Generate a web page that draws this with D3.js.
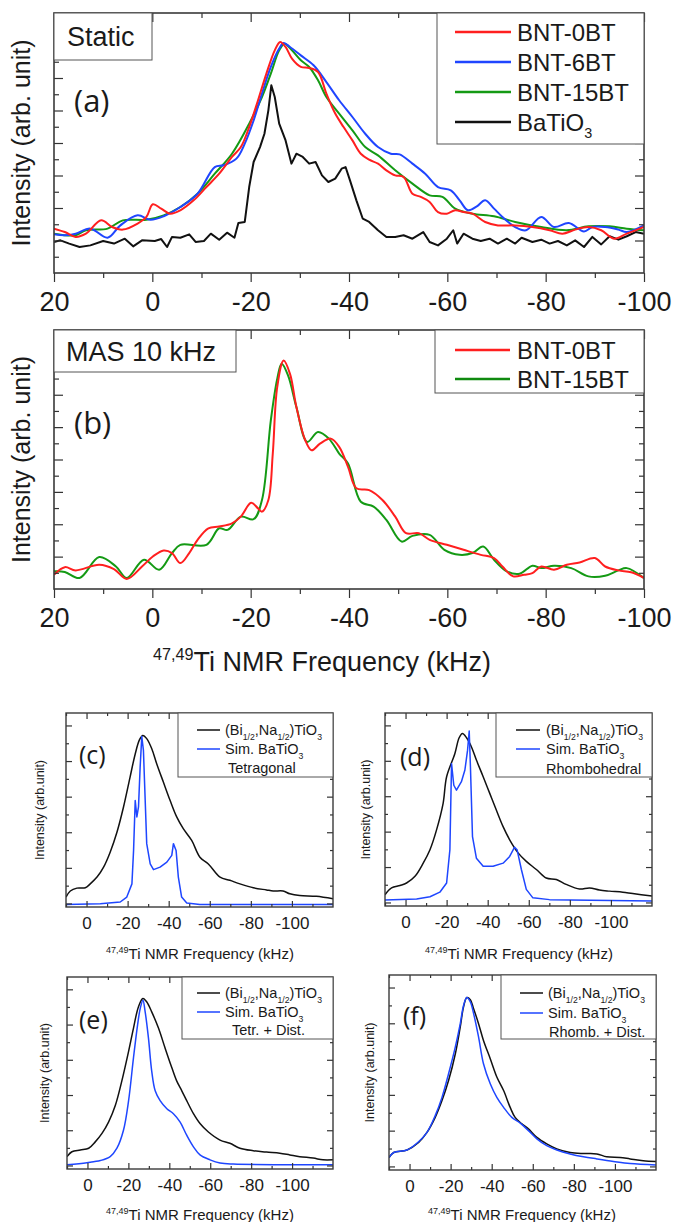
<!DOCTYPE html>
<html>
<head>
<meta charset="utf-8">
<script src="https://cdn.jsdelivr.net/npm/d3@7"></script>
<style>
  body { margin: 0; background: #fff; }
  svg { display: block; font-family: "Liberation Sans", Arial, sans-serif; }
</style>
</head>
<body>
<div id="chart"></div>
<script>
// ---- data: [frequency kHz, intensity a.u.] ----
const staticBNT0 = [[20,2.73],[17.8,2.52],[15.6,2.22],[13.5,2.42],[10.4,3.24],[8.2,2.83],[6.0,2.67],[3.0,3.04],[1.2,3.45],[-0.1,4.23],[-1.8,3.96],[-3.6,3.65],[-5.7,3.86],[-8.4,4.47],[-11.0,5.29],[-13.6,6.11],[-16.2,7.14],[-18.0,7.75],[-19.7,8.98],[-21.5,10.63],[-23.2,12.27],[-24.9,13.70],[-26.0,14.22],[-27.1,13.91],[-28.4,13.19],[-30.2,12.68],[-31.9,12.62],[-33.7,12.37],[-35.4,11.04],[-37.2,9.81],[-38.9,8.98],[-40.7,8.16],[-42.4,7.34],[-44.1,6.97],[-45.9,6.73],[-47.6,6.32],[-49.4,6.01],[-51.1,5.91],[-52.9,4.88],[-54.6,4.68],[-56.4,4.37],[-58.1,3.75],[-59.9,3.65],[-61.6,3.86],[-63.3,3.75],[-65.1,3.65],[-67.7,3.14],[-70.3,2.93],[-73.8,2.93],[-77.3,2.83],[-80.8,2.63],[-83.4,2.42],[-86.0,2.67],[-88.7,2.83],[-91.3,2.63],[-93.9,2.11],[-96.5,2.42],[-100,2.83]];
const staticBNT6 = [[20,2.38],[17.8,2.32],[15.6,2.42],[12.6,2.73],[9.1,2.17],[6.5,2.93],[3.0,3.55],[0.4,3.28],[-2.3,3.49],[-5.7,4.06],[-9.2,4.88],[-12.7,6.52],[-14.5,6.63],[-17.1,7.04],[-18.8,7.96],[-20.6,9.39],[-22.3,11.04],[-24.1,12.68],[-25.8,13.81],[-26.7,14.15],[-28.0,13.91],[-30.2,13.39],[-32.8,12.78],[-35.4,11.75],[-38.0,10.63],[-40.7,9.60],[-43.3,8.57],[-45.9,7.75],[-48.5,7.34],[-50.3,7.30],[-52.9,6.73],[-55.5,6.11],[-58.1,5.29],[-60.7,5.09],[-62.5,4.47],[-64.2,3.86],[-66.0,4.10],[-67.7,4.47],[-69.5,3.96],[-71.2,3.45],[-73.8,2.83],[-76.0,2.63],[-79.1,3.45],[-81.7,2.83],[-84.7,3.08],[-87.8,2.56],[-89.5,2.83],[-92.1,2.83],[-94.8,2.67],[-96.5,2.52],[-100,2.93]];
const staticBNT15 = [[20,2.42],[15.6,2.32],[13.5,2.63],[9.1,2.73],[6.0,3.24],[1.2,3.28],[-2.3,3.55],[-5.7,4.06],[-9.2,4.88],[-12.7,6.11],[-16.2,7.34],[-19.7,9.19],[-22.3,10.83],[-24.1,12.27],[-25.8,13.70],[-26.9,14.11],[-28.4,13.70],[-30.2,13.09],[-31.9,12.68],[-33.7,11.86],[-35.4,10.83],[-38.0,9.81],[-40.7,8.78],[-43.3,7.75],[-45.9,7.24],[-49.4,6.32],[-52.9,5.50],[-56.4,4.78],[-59.0,4.68],[-61.6,3.96],[-65.1,3.65],[-69.5,3.49],[-73.8,3.14],[-79.1,2.83],[-84.3,2.63],[-88.7,2.87],[-93.0,2.87],[-96.5,2.73],[-100,2.63]];
const staticBTO = [[20,1.91],[18.7,2.01],[16.9,1.81],[14.8,1.60],[12.6,1.70],[10.0,1.97],[7.8,1.81],[5.6,2.11],[3.9,1.64],[2.1,2.01],[-0.5,1.97],[-1.8,2.09],[-3.0,1.60],[-4.0,2.22],[-5.7,2.17],[-7.5,2.38],[-8.8,1.91],[-10.5,1.97],[-11.9,2.42],[-13.6,2.05],[-15.2,2.48],[-16.7,2.17],[-17.5,3.08],[-18.8,3.14],[-19.7,5.29],[-20.6,6.83],[-21.9,7.75],[-22.8,8.57],[-23.6,10.01],[-24.2,11.55],[-24.9,10.83],[-25.8,9.19],[-27.1,8.16],[-28.3,6.73],[-29.3,7.34],[-30.6,7.14],[-31.9,6.73],[-33.2,6.83],[-34.5,6.01],[-35.8,5.60],[-37.2,5.81],[-38.5,6.42],[-39.3,6.52],[-40.2,5.70],[-41.5,4.47],[-42.8,3.34],[-44.1,3.14],[-45.9,2.63],[-47.6,2.22],[-49.4,2.22],[-51.1,2.32],[-52.9,2.11],[-55.1,2.52],[-56.4,1.91],[-58.1,1.70],[-59.9,2.11],[-61.2,2.63],[-62.0,1.81],[-63.3,2.42],[-65.1,2.11],[-66.8,1.97],[-68.6,2.11],[-70.3,1.81],[-72.1,2.11],[-73.8,1.81],[-75.1,2.17],[-77.3,1.91],[-79.1,2.05],[-80.8,1.81],[-82.5,1.97],[-84.3,1.70],[-86.0,2.01],[-87.8,1.60],[-89.5,2.22],[-91.3,1.76],[-93.0,2.26],[-94.8,2.05],[-96.5,2.26],[-98.3,2.52],[-100,2.42]];

const masBNT0 = [[20,0.88],[17.8,1.35],[15.6,1.15],[10.8,1.50],[7.8,1.23],[5.2,0.62],[2.1,1.39],[-0.1,2.01],[-2.3,2.38],[-4.0,2.22],[-5.7,1.60],[-7.5,2.22],[-9.2,3.04],[-11.4,3.75],[-13.6,3.86],[-16.2,4.06],[-18.0,4.47],[-20.1,5.33],[-21.5,4.98],[-22.3,4.78],[-23.6,5.50],[-24.5,8.37],[-25.4,12.47],[-26.7,14.11],[-28.0,13.29],[-29.3,11.24],[-31.1,9.19],[-32.4,8.57],[-34.1,8.98],[-36.3,9.29],[-38.0,8.78],[-39.8,7.55],[-41.5,6.22],[-44.1,6.11],[-46.8,5.50],[-49.4,4.47],[-51.6,3.45],[-54.2,3.45],[-56.4,3.04],[-59.9,2.73],[-63.3,2.42],[-66.8,2.11],[-69.5,1.91],[-71.2,1.39],[-73.4,0.78],[-75.6,0.88],[-77.3,0.98],[-79.1,1.39],[-81.7,1.19],[-84.3,1.50],[-86.9,1.64],[-90.0,1.91],[-92.1,1.39],[-94.8,1.15],[-97.4,1.03],[-100,0.68]];
const masBNT15 = [[20,1.09],[17.8,1.05],[14.8,0.68],[10.8,1.97],[7.4,1.39],[5.2,0.68],[1.7,1.81],[-1.4,1.19],[-4.0,2.22],[-5.7,2.73],[-11.0,2.73],[-13.6,3.75],[-15.3,3.65],[-18.0,4.47],[-20.6,4.31],[-22.3,5.50],[-24.1,10.42],[-25.4,12.98],[-26.3,13.91],[-27.6,13.19],[-29.3,11.24],[-31.5,9.09],[-33.7,9.70],[-35.9,9.29],[-38.0,8.37],[-39.8,7.75],[-42.4,5.39],[-45.0,5.09],[-47.6,4.27],[-50.7,2.93],[-52.9,3.28],[-56.4,3.34],[-59.4,2.42],[-62.5,2.11],[-65.1,2.22],[-67.3,2.63],[-69.5,1.81],[-72.1,1.09],[-74.7,0.94],[-77.3,1.44],[-79.1,1.29],[-81.7,1.44],[-85.2,1.29],[-88.7,0.78],[-92.1,0.82],[-94.8,1.15],[-96.5,1.29],[-100,0.68]];

const bntTetra = [[10,0.18],[7.9,0.35],[4.7,0.43],[0.6,0.44],[-1.8,0.55],[-5.1,0.74],[-8.3,1.02],[-11.5,1.44],[-14.8,2.00],[-18.0,2.71],[-21.2,3.55],[-23.7,4.20],[-25.8,4.60],[-27.4,4.72],[-29.3,4.63],[-31.8,4.34],[-34.2,3.92],[-37.4,3.41],[-40.7,2.89],[-43.9,2.43],[-47.1,2.10],[-51.2,1.77],[-55.2,1.30],[-59.3,1.11],[-65.0,0.74],[-69.8,0.65],[-74.7,0.55],[-81.2,0.44],[-87.6,0.38],[-90.9,0.35],[-95.7,0.35],[-99.0,0.27],[-103.8,0.22],[-111.9,0.20],[-120,0.13]];
const simTetra = [[10,-0.03],[-6.7,-0.01],[-16.4,0.04],[-19.6,0.18],[-22.1,0.55],[-22.9,1.49],[-23.7,2.89],[-24.5,2.43],[-25.3,2.71],[-26.1,3.83],[-26.9,4.69],[-27.7,4.30],[-29.3,1.68],[-31.0,1.11],[-32.6,0.95],[-35.8,1.02],[-39.1,1.16],[-41.5,1.35],[-42.3,1.68],[-43.6,1.49],[-44.7,0.74],[-46.3,0.18],[-48.8,0.01],[-55.2,-0.03],[-120,-0.03]];

const bntRhomb = [[10,0.22],[6.8,0.41],[2.7,0.48],[-0.5,0.55],[-4.6,0.74],[-8.6,1.11],[-11.9,1.49],[-15.1,2.05],[-18.3,2.80],[-20.0,3.55],[-24.0,4.20],[-26.1,4.65],[-27.7,4.77],[-29.7,4.65],[-32.1,4.39],[-34.5,4.02],[-37.8,3.55],[-41.0,3.08],[-44.2,2.61],[-47.5,2.14],[-50.7,1.77],[-54.8,1.40],[-58.8,1.16],[-63.7,0.93],[-68.5,0.69],[-73.4,0.65],[-78.2,0.51],[-84.7,0.38],[-89.6,0.41],[-94.4,0.35],[-99.3,0.32],[-105.8,0.29],[-110.6,0.25],[-120,0.18]];
const simRhomb = [[10,0.07],[-5.4,0.10],[-11.9,0.16],[-16.7,0.29],[-20.0,0.55],[-21.6,1.49],[-22.4,3.92],[-23.5,3.31],[-24.8,3.17],[-27.2,3.41],[-28.9,3.74],[-30.2,4.30],[-31.0,4.84],[-31.6,3.83],[-32.6,1.86],[-34.5,1.25],[-37.8,1.02],[-42.6,1.02],[-47.5,1.11],[-50.7,1.30],[-53.1,1.56],[-54.3,1.49],[-56.4,0.93],[-58.8,0.37],[-62.0,0.13],[-70.1,0.08],[-120,0.04]];

const bntTetraDist = [[10,0.25],[7.6,0.39],[3.5,0.44],[-0.6,0.49],[-3.8,0.67],[-7.1,0.91],[-10.3,1.23],[-13.6,1.70],[-16.8,2.40],[-20.1,3.24],[-22.5,3.90],[-24.9,4.50],[-27.1,4.74],[-29.0,4.64],[-31.4,4.36],[-34.7,3.90],[-37.9,3.34],[-41.2,2.78],[-43.6,2.40],[-46.1,2.12],[-48.5,1.84],[-51.8,1.47],[-55.0,1.19],[-59.1,0.95],[-64.8,0.72],[-69.6,0.63],[-74.5,0.49],[-81.0,0.42],[-87.5,0.38],[-94.0,0.35],[-98.9,0.30],[-103.8,0.25],[-110.3,0.21],[-115.1,0.16],[-120,0.16]];
const simTetraDist = [[10,0.02],[0.25,0.08],[-6.3,0.14],[-11.1,0.25],[-14.4,0.49],[-17.6,1.00],[-20.1,1.84],[-22.5,3.06],[-24.5,3.99],[-25.8,4.46],[-27.1,4.69],[-28.2,4.36],[-29.8,3.62],[-31.4,2.68],[-33.1,2.12],[-35.5,1.84],[-38.8,1.61],[-42.0,1.47],[-45.3,1.23],[-48.5,0.86],[-51.8,0.53],[-55.0,0.30],[-59.9,0.16],[-64.8,0.07],[-71.3,0.04],[-120,0.02]];

const bntRhombDist = [[10,0.25],[7.7,0.39],[1.2,0.46],[-4.4,0.67],[-8.5,0.95],[-12.5,1.37],[-15.8,1.84],[-19.0,2.40],[-22.3,3.15],[-24.7,3.90],[-26.3,4.46],[-27.9,4.72],[-29.6,4.66],[-31.2,4.41],[-33.6,3.99],[-36.0,3.52],[-39.3,3.01],[-42.5,2.50],[-45.8,2.12],[-49.0,1.65],[-51.4,1.37],[-54.7,1.19],[-57.9,1.05],[-62.0,0.81],[-66.8,0.63],[-71.7,0.49],[-78.2,0.39],[-84.7,0.36],[-91.2,0.35],[-96.0,0.27],[-102.5,0.25],[-107.4,0.21],[-113.8,0.16],[-120,0.14]];
const simRhombDist = [[10,0.25],[7.7,0.39],[1.2,0.46],[-4.4,0.69],[-8.5,0.95],[-12.5,1.42],[-15.8,1.93],[-19.0,2.59],[-22.3,3.34],[-24.7,3.99],[-26.3,4.50],[-27.9,4.72],[-29.6,4.60],[-31.2,4.27],[-33.6,3.62],[-36.0,2.87],[-39.3,2.31],[-42.5,1.93],[-45.8,1.65],[-49.8,1.37],[-53.9,1.21],[-57.9,1.00],[-62.0,0.77],[-66.8,0.58],[-71.7,0.46],[-78.2,0.35],[-84.7,0.27],[-91.2,0.21],[-99.3,0.14],[-107.4,0.08],[-120,0.04]];

// ---- tick values ----
const bigFreqTicks = [20, 0, -20, -40, -60, -80, -100];
const bigFreqMinor = [10, -10, -30, -50, -70, -90];
const smallFreqTicks = [0, -20, -40, -60, -80, -100];
const smallFreqMinor = [10, -10, -30, -50, -70, -90, -110];
const bigIntMajor = [2, 4, 6, 8, 10, 12, 14];
const bigIntMinor = [1, 3, 5, 7, 9, 11, 13, 15];
const smallIntMajor = [0, 1, 2, 3, 4, 5];
const smallIntMinor = [0.5, 1.5, 2.5, 3.5, 4.5];

const red = "#ff1f1f", blue = "#1f45ff", green = "#149a14", black = "#111";
const simBlue = "#1e46ff";

const width = 673, height = 1222;
const svg = d3.select("#chart").append("svg").attr("width", width).attr("height", height);
const defs = svg.append("defs");

// text with sub/superscript pieces
function rich(g, x, y, parts, size, anchor) {
	const t = g.append("text").attr("x", x).attr("y", y)
		.attr("font-size", size).attr("fill", "#1a1a1a")
		.attr("text-anchor", anchor || "start");
	let shift = 0;
	parts.forEach((p) => {
		const target = p.sub ? size * 0.32 : p.sup ? -size * 0.42 : 0;
		t.append("tspan")
			.attr("dy", target - shift)
			.attr("font-size", (p.sub || p.sup) ? size * 0.6 : size)
			.text(p.t);
		shift = target;
	});
	return t;
}

function drawPanel(p) {
	const g = svg.append("g");
	const x = d3.scaleLinear().domain(p.xDomain).range([p.left, p.right]);
	const y = d3.scaleLinear().domain(p.yDomain).range([p.bottom, p.top]);

	defs.append("clipPath").attr("id", "clip-" + p.key)
		.append("rect").attr("x", p.left).attr("y", p.top)
		.attr("width", p.right - p.left).attr("height", p.bottom - p.top);

	// curves
	const curves = g.append("g").attr("clip-path", `url(#clip-${p.key})`);
	p.series.forEach((s) => {
		const line = d3.line()
			.x((d) => x(d[0]))
			.y((d) => y(d[1]))
			.curve(s.smooth ? d3.curveCatmullRom.alpha(0.5) : d3.curveLinear);
		curves.append("path")
			.datum(s.values)
			.attr("fill", "none")
			.attr("stroke", s.color)
			.attr("stroke-width", p.lineWidth)
			.attr("stroke-linejoin", "round")
			.attr("d", line);
	});

	// ticks
	const tk = p.tick;
	const addAxis = (axis, tx, ty) => {
		const a = g.append("g").attr("transform", `translate(${tx},${ty})`).call(axis);
		a.select(".domain").remove();
		a.selectAll(".tick line").attr("stroke", "#333").attr("stroke-width", 1.2);
		return a;
	};
	// bottom: labels
	const lab = addAxis(d3.axisBottom(x).tickValues(p.xTicks).tickSize(0)
		.tickPadding(p.labelPad).tickFormat((d) => String(d)), 0, p.bottom);
	lab.selectAll("text").attr("font-size", p.tickFont).attr("fill", "#1a1a1a")
		.attr("font-family", "'Liberation Sans', Arial, sans-serif");
	const bDir = p.bottomOut ? 1 : -1;
	addAxis(d3.axisBottom(x).tickValues(p.xTicks).tickSize(bDir * tk.major).tickFormat(""), 0, p.bottom);
	addAxis(d3.axisBottom(x).tickValues(p.xMinor).tickSize(bDir * tk.minor).tickFormat(""), 0, p.bottom);
	addAxis(d3.axisTop(x).tickValues(p.xTicks).tickSize(-tk.major).tickFormat(""), 0, p.top);
	addAxis(d3.axisTop(x).tickValues(p.xMinor).tickSize(-tk.minor).tickFormat(""), 0, p.top);
	addAxis(d3.axisLeft(y).tickValues(p.yMajor).tickSize(-tk.major).tickFormat(""), p.left, 0);
	addAxis(d3.axisLeft(y).tickValues(p.yMinor).tickSize(-tk.minor).tickFormat(""), p.left, 0);
	addAxis(d3.axisRight(y).tickValues(p.yMajor).tickSize(-tk.major).tickFormat(""), p.right, 0);
	addAxis(d3.axisRight(y).tickValues(p.yMinor).tickSize(-tk.minor).tickFormat(""), p.right, 0);

	// frame
	g.append("rect")
		.attr("x", p.left).attr("y", p.top)
		.attr("width", p.right - p.left).attr("height", p.bottom - p.top)
		.attr("fill", "none").attr("stroke", "#3a3a3a").attr("stroke-width", p.frameWidth);

	// y label
	g.append("text")
		.attr("transform", `translate(${p.yLabelX},${(p.top + p.bottom) / 2}) rotate(-90)`)
		.attr("text-anchor", "middle").attr("dy", "0.35em")
		.attr("font-size", p.yLabelFont).attr("fill", "#1a1a1a")
		.text(p.yLabel);

	// panel letter
	g.append("text").attr("x", p.letter.x).attr("y", p.letter.y).attr("dy", "0.35em")
		.attr("font-size", p.letter.size).attr("fill", "#1a1a1a")
		.attr("font-family", "'Open Sans', 'Liberation Sans', sans-serif")
		.text(p.letter.t);

	// legend
	const L = p.legend;
	g.append("rect").attr("x", L.x0).attr("y", L.y0)
		.attr("width", L.x1 - L.x0).attr("height", L.y1 - L.y0)
		.attr("fill", "#fff").attr("stroke", "#555").attr("stroke-width", 1);
	L.rows.forEach((r) => {
		if (r.color) {
			g.append("line").attr("x1", L.lx0).attr("x2", L.lx1).attr("y1", r.y).attr("y2", r.y)
				.attr("stroke", r.color).attr("stroke-width", L.lw);
		}
		rich(g, r.tx || L.tx, r.y + L.size * 0.36, r.parts, L.size);
	});

	// tag box (Static / MAS)
	if (p.tag) {
		g.append("rect").attr("x", p.tag.x0).attr("y", p.tag.y0)
			.attr("width", p.tag.x1 - p.tag.x0).attr("height", p.tag.y1 - p.tag.y0)
			.attr("fill", "#fff").attr("stroke", "#555").attr("stroke-width", 1);
		g.append("text").attr("x", p.tag.tx).attr("y", (p.tag.y0 + p.tag.y1) / 2).attr("dy", "0.36em")
			.attr("font-size", p.tag.size).attr("fill", "#1a1a1a").text(p.tag.t);
	}

	// x title
	if (p.xTitle) {
		rich(g, p.xTitle.x, p.xTitle.y, [{ t: "47,49", sup: true }, { t: "Ti NMR Frequency (kHz)" }], p.xTitle.size, "middle");
	}
}

const bigCommon = {
	xDomain: [20, -100], yDomain: [0, 16], lineWidth: 2, frameWidth: 1.6,
	xTicks: bigFreqTicks, xMinor: bigFreqMinor, yMajor: bigIntMajor, yMinor: bigIntMinor,
	tick: { major: 9, minor: 5 }, bottomOut: true, labelPad: 19, tickFont: 27,
	yLabel: "Intensity (arb. unit)", yLabelFont: 25, yLabelX: 21
};

drawPanel(Object.assign({}, bigCommon, {
	key: "a", left: 54, right: 644, top: 13, bottom: 273,
	series: [
		{ values: staticBTO, color: black, smooth: false },
		{ values: staticBNT15, color: green, smooth: true },
		{ values: staticBNT6, color: blue, smooth: true },
		{ values: staticBNT0, color: red, smooth: true }
	],
	letter: { t: "(a)", x: 74, y: 101, size: 31 },
	tag: { t: "Static", x0: 54, y0: 13, x1: 152, y1: 60, tx: 67, size: 27 },
	legend: {
		x0: 437, y0: 13, x1: 644, y1: 144, lx0: 455, lx1: 511, tx: 517, size: 24, lw: 2.5,
		rows: [
			{ y: 32, color: red, parts: [{ t: "BNT-0BT" }] },
			{ y: 62, color: blue, parts: [{ t: "BNT-6BT" }] },
			{ y: 92, color: green, parts: [{ t: "BNT-15BT" }] },
			{ y: 122, color: black, parts: [{ t: "BaTiO" }, { t: "3", sub: true }] }
		]
	}
}));

drawPanel(Object.assign({}, bigCommon, {
	key: "b", left: 54, right: 644, top: 330, bottom: 589,
	series: [
		{ values: masBNT15, color: green, smooth: true },
		{ values: masBNT0, color: red, smooth: true }
	],
	letter: { t: "(b)", x: 74, y: 423, size: 31 },
	tag: { t: "MAS 10 kHz", x0: 54, y0: 330, x1: 236, y1: 372, tx: 66, size: 27 },
	legend: {
		x0: 435, y0: 330, x1: 644, y1: 393, lx0: 455, lx1: 510, tx: 517, size: 24, lw: 2.5,
		rows: [
			{ y: 350, color: red, parts: [{ t: "BNT-0BT" }] },
			{ y: 379, color: "#0f8a0f", parts: [{ t: "BNT-15BT" }] }
		]
	},
	xTitle: { x: 322, y: 671, size: 27 }
}));

const smallCommon = {
	xDomain: [10, -120], yDomain: [-0.1, 5.35], lineWidth: 1.5, frameWidth: 1.4,
	xTicks: smallFreqTicks, xMinor: smallFreqMinor, yMajor: smallIntMajor, yMinor: smallIntMinor,
	tick: { major: 6, minor: 3 }, bottomOut: false, labelPad: 10, tickFont: 17,
	yLabel: "Intensity (arb.unit)", yLabelFont: 12.5
};
const bntParts = [{ t: "(Bi" }, { t: "1/2", sub: true }, { t: ",Na" }, { t: "1/2", sub: true }, { t: ")TiO" }, { t: "3", sub: true }];
const simParts = [{ t: "Sim. BaTiO" }, { t: "3", sub: true }];

drawPanel(Object.assign({}, smallCommon, {
	key: "c", left: 66, right: 333, top: 713, bottom: 907, yLabelX: 40,
	series: [
		{ values: bntTetra, color: black, smooth: true },
		{ values: simTetra, color: simBlue, smooth: false }
	],
	letter: { t: "(c)", x: 79, y: 755, size: 25 },
	legend: {
		x0: 178, y0: 713, x1: 333, y1: 777, lx0: 197, lx1: 220, tx: 225, size: 14.5, lw: 1.5,
		rows: [
			{ y: 730, color: black, parts: bntParts },
			{ y: 749, color: simBlue, parts: simParts },
			{ y: 768, tx: 228, parts: [{ t: "Tetragonal" }] }
		]
	},
	xTitle: { x: 200, y: 959, size: 15 }
}));

drawPanel(Object.assign({}, smallCommon, {
	key: "d", left: 385, right: 652, top: 713, bottom: 906, yLabelX: 366,
	series: [
		{ values: bntRhomb, color: black, smooth: true },
		{ values: simRhomb, color: simBlue, smooth: false }
	],
	letter: { t: "(d)", x: 400, y: 757, size: 25 },
	legend: {
		x0: 496, y0: 713, x1: 652, y1: 777, lx0: 516, lx1: 540, tx: 546, size: 14.5, lw: 1.5,
		rows: [
			{ y: 730, color: black, parts: bntParts },
			{ y: 749, color: simBlue, parts: simParts },
			{ y: 769, parts: [{ t: "Rhombohedral" }] }
		]
	},
	xTitle: { x: 519, y: 959, size: 15 }
}));

drawPanel(Object.assign({}, smallCommon, {
	key: "e", left: 67, right: 333, top: 977, bottom: 1169, yLabelX: 45,
	series: [
		{ values: bntTetraDist, color: black, smooth: true },
		{ values: simTetraDist, color: simBlue, smooth: true }
	],
	letter: { t: "(e)", x: 79, y: 1020, size: 25 },
	legend: {
		x0: 182, y0: 977, x1: 333, y1: 1039, lx0: 197, lx1: 220, tx: 225, size: 14.5, lw: 1.5,
		rows: [
			{ y: 993, color: black, parts: bntParts },
			{ y: 1012, color: simBlue, parts: simParts },
			{ y: 1030, tx: 232, parts: [{ t: "Tetr. + Dist." }] }
		]
	},
	xTitle: { x: 200, y: 1220, size: 15 }
}));

drawPanel(Object.assign({}, smallCommon, {
	key: "f", left: 389, right: 656, top: 975, bottom: 1170, yLabelX: 370,
	series: [
		{ values: bntRhombDist, color: black, smooth: true },
		{ values: simRhombDist, color: simBlue, smooth: true }
	],
	letter: { t: "(f)", x: 403, y: 1016, size: 25 },
	legend: {
		x0: 501, y0: 975, x1: 656, y1: 1039, lx0: 520, lx1: 543, tx: 548, size: 14.5, lw: 1.5,
		rows: [
			{ y: 993, color: black, parts: bntParts },
			{ y: 1013, color: simBlue, parts: simParts },
			{ y: 1032, tx: 549, parts: [{ t: "Rhomb. + Dist." }] }
		]
	},
	xTitle: { x: 522, y: 1220, size: 15 }
}));
</script>
</body>
</html>
